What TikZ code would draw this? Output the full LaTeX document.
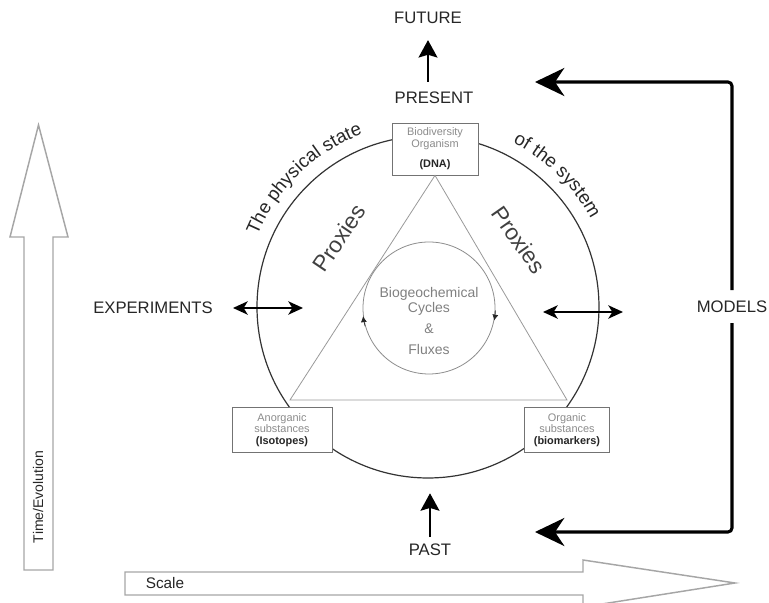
\documentclass[tikz,border=0pt]{standalone}
\usepackage{fontspec}
\setmainfont{Liberation Sans}
\usetikzlibrary{arrows.meta,decorations.text}

\begin{document}
\begin{tikzpicture}[x=0.75pt,y=0.75pt,
        label text/.style={font=\fontsize{12.5}{14}\selectfont, inner sep=0pt, text=black!85},
        sub box/.style={draw=black!55, fill=white, line width=0.6pt, align=center, inner sep=0pt,
            font=\fontsize{8.2}{8.4}\selectfont, text=black!45},
        proxy text/.style={font=\fontsize{17}{18}\selectfont, text=black!75},
        big arrow/.style={line width=2.3pt, -{Stealth[length=22pt,width=21pt,inset=7pt]}},
        time arrow/.style={line width=2.2pt, -{Stealth[length=13pt,width=14pt,inset=2pt]}},
        two way/.style={line width=1.5pt,
            {Stealth[length=11pt,width=10pt,inset=3pt]}-{Stealth[length=11pt,width=10pt,inset=3pt]}},
        open arrow/.style={draw=black!35, line width=1.1pt, fill=white}]

    \useasboundingbox (0,0) rectangle (769,603);

    \draw[open arrow] (24,33) -- (24,366) -- (10,366) -- (38.5,478) -- (68,366) -- (53,366) -- (53,33) -- cycle;
    \draw[open arrow] (125,8) -- (583,8) -- (583,-4) -- (735,20) -- (583,43) -- (583,31) -- (125,31) -- cycle;
    \node[label text, rotate=90, font=\fontsize{10.5}{12}\selectfont] (time) at (38,106) {Time/Evolution};
    \node[label text, font=\fontsize{11.5}{13}\selectfont] (scale) at (165,20) {Scale};

    \node[draw=black!80, line width=0.9pt, circle, minimum size=256.5pt, inner sep=0pt] (sys) at (428,296) {};

    \node[sub box, minimum width=64.5pt, minimum height=39pt] (dna) at (435,454)
        {Biodiversity\\Organism\\[7pt]\textcolor{black!85}{\textbf{(DNA)}}};
    \node[sub box, minimum width=75pt, minimum height=33.75pt] (iso) at (282,173)
        {Anorganic\\substances\\\textcolor{black!85}{\textbf{(Isotopes)}}};
    \node[sub box, minimum width=63.75pt, minimum height=33.75pt] (bio) at (567,173)
        {Organic\\substances\\\textcolor{black!85}{\textbf{(biomarkers)}}};

    \coordinate (triL) at (290,203);
    \coordinate (triR) at (567,203);
    \draw[black!40, line width=0.6pt] (dna.south) -- (triL) -- (triR) -- cycle;

    \node[draw=black!45, line width=0.6pt, circle, minimum size=99pt, inner sep=0pt] (cyc) at (429,295) {};
    \node[text=black!50, align=center, font=\fontsize{10.5}{11.25}\selectfont] (cyctext) at (429,282)
        {Biogeochemical\\Cycles\\[4.5pt]\&\\[5pt]Fluxes};
    \draw[black!85, line width=0.5pt, -{Latex[length=4.5pt,width=4.5pt]}] (cyc.196) arc[start angle=196, end angle=187, radius=66];
    \draw[black!85, line width=0.5pt, -{Latex[length=4.5pt,width=4.5pt]}] (cyc.-2) arc[start angle=-2, end angle=-11, radius=66];

    \node[proxy text, rotate=56] (proxl) at (339,365) {Proxies};
    \node[proxy text, rotate=-55] (proxr) at (519,363) {Proxies};

    \path[decorate, decoration={text along path, text align=center,
        text={|\fontsize{14}{15}\selectfont\color{black!85}|The physical state}}]
        (sys.center) ++(162:185) arc[start angle=162, end angle=106, radius=185];
    \path[decorate, decoration={text along path, text align=center,
        text={|\fontsize{14}{15}\selectfont\color{black!85}|of the system}}]
        (sys.center) ++(71:185) arc[start angle=71, end angle=20, radius=185];

    \node[label text] (future) at (428,585) {FUTURE};
    \node[label text] (present) at (434,505) {PRESENT};
    \node[label text] (past) at (430,53) {PAST};
    \draw[time arrow, shorten <=7.5pt, shorten >=12pt] (future |- present.north) -- (future.south);
    \draw[time arrow, shorten <=5pt, shorten >=11pt] (past.north) -- (past |- sys.south);

    \node[label text] (exp) at (153,295) {EXPERIMENTS};
    \coordinate (expin) at (303,295);
    \draw[two way, shorten <=15pt] (exp) -- (expin);

    \node[label text] (models) at (732,296) {MODELS};
    \coordinate (modin) at (543,291);
    \coordinate (modout) at (623,291);
    \draw[two way] (modin) -- (modout);

    \coordinate (modtop) at (535,521);
    \coordinate (modbot) at (535,71);
    \draw[big arrow, rounded corners=3pt, shorten <=8pt] (models) |- (modtop);
    \draw[big arrow, rounded corners=3pt, shorten <=7.5pt] (models) |- (modbot);

\end{tikzpicture}
\end{document}
